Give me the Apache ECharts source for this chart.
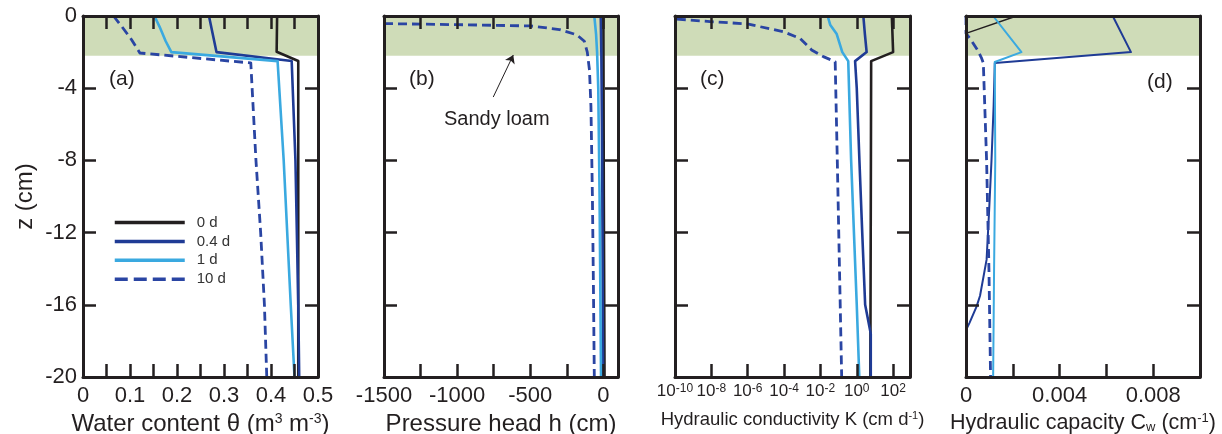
<!DOCTYPE html>
<html>
<head>
<meta charset="utf-8">
<script src="https://cdn.jsdelivr.net/npm/echarts@6/dist/echarts.min.js"></script>
<style>
html,body{margin:0;padding:0;background:#fff;}
#chart{width:1222px;height:434px;}
</style>
</head>
<body>
<div id="chart"></div>
<script>
// ---------- data (value, depth z in cm) ----------
const legendNames = ['0 d', '0.4 d', '1 d', '10 d'];
const layerZ = [0, -2.2];            // sandy loam layer (green band)
const kTickValues = [1e-10, 1e-8, 1e-6, 1e-4, 1e-2, 1, 1e2];

// (a) water content theta
const theta0d  = [[0.413,0],[0.412,-1.98],[0.458,-2.49],[0.458,-20]];
const theta04d = [[0.268,0],[0.284,-2.0],[0.444,-2.49],[0.452,-8],[0.458,-16],[0.46,-20]];
const theta1d  = [[0.152,0],[0.163,-0.6],[0.176,-1.4],[0.188,-2.0],[0.414,-2.5],[0.427,-8],[0.442,-16],[0.45,-20]];
const theta10d = [[0.065,0],[0.083,-0.6],[0.103,-1.3],[0.121,-2.05],[0.357,-2.6],[0.368,-8],[0.378,-12],[0.386,-16],[0.391,-20]];

// (b) pressure head h
const h0d  = [[0,0],[3,-10],[8,-20]];
const h04d = [[-18,0],[-14,-2],[-8,-8],[-2,-20]];
const h1d  = [[-62,0],[-50,-1],[-43,-2],[-35,-4],[-26,-10],[-16,-20]];
const h10d = [[-1500,-0.42],[-1000,-0.48],[-500,-0.55],[-300,-0.75],[-180,-1.05],[-130,-1.4],[-110,-2],[-95,-3],[-85,-5],[-75,-10],[-68,-15],[-62,-20]];

// (c) hydraulic conductivity K (cm/d)
const K0d  = [[85,0],[100,-2],[6.2,-2.5],[5.6,-20]];
const K04d = [[2.3,0],[2.8,-1],[3.5,-2],[0.81,-2.5],[1.0,-4],[1.4,-8],[2.0,-12],[2.9,-16],[5.9,-17.6],[5.9,-20]];
const K1d  = [[0.025,0],[0.035,-0.5],[0.079,-1],[0.16,-2],[0.34,-2.5],[0.49,-8],[1.0,-16],[1.38,-20]];
const K10d = [[1.26e-10,-0.17],[8.5e-9,-0.31],[9.5e-7,-0.44],[9.1e-5,-0.87],[7.6e-4,-1.24],[3.3e-3,-1.88],[1.45e-2,-2.25],[6.5e-2,-2.53],[8.5e-2,-8],[0.148,-20]];

// (d) hydraulic capacity Cw (1/cm)
const C0d  = [[0.00216,0],[0,-0.96],[0,-20]];
const C04d = [[0.00627,0],[0.00705,-2],[0.00123,-2.6],[0.00118,-5],[0.00109,-8],[0.00098,-11],[0.00088,-13.5],[0.0006,-15.5],[0.00045,-16.1],[0.00015,-17],[0,-17.4],[0,-20]];
const C1d  = [[0.00116,0],[0.00237,-2],[0.00123,-2.55],[0.00125,-8],[0.0012,-14],[0.00116,-20]];
const C10d = [[0,0],[0,-0.96],[0.0002,-1.3],[0.0005,-1.9],[0.00067,-2.35],[0.00074,-2.6],[0.00088,-8],[0.00098,-14],[0.00105,-20]];

// annotation arrow (data coords in panel b)
const arrowFrom = [-753, -4.49];
const arrowTo   = [-616, -2.16];

// ---------- styles ----------
const INK = '#231f20';
const colors = {'0 d':'#231f20','0.4 d':'#1f3b95','1 d':'#3aa9e0','10 d':'#2a45a3'};
const GREEN = '#cfdcb8';
const FONT = 'Liberation Sans, Arial, sans-serif';

const panelData = [
  [theta0d, theta04d, theta1d, theta10d],
  [h0d, h04d, h1d, h10d],
  [K0d, K04d, K1d, K10d],
  [C0d, C04d, C1d, C10d]
];

const grids = [
  {left:83,  right:904, top:16, bottom:57, outerBoundsMode:'none', containLabel:false},
  {left:384, right:604, top:16, bottom:57, outerBoundsMode:'none', containLabel:false},
  {left:675, right:312, top:16, bottom:57, outerBoundsMode:'none', containLabel:false},
  {left:966, right:22,  top:16, bottom:57, outerBoundsMode:'none', containLabel:false}
];

const tickStyle = {show:true, inside:true, length:13, lineStyle:{color:INK, width:2.5}};
const lineAx = {show:true, onZero:false, lineStyle:{color:INK, width:3}};

function supRich(base){
  return {
    sup:{fontSize:Math.round(base*0.6), verticalAlign:'top', fontFamily:FONT, color:INK},
    sub:{fontSize:Math.round(base*0.6), verticalAlign:'bottom', fontFamily:FONT, color:INK}
  };
}

const xDefs = [
  {type:'value', min:0, max:0.5, interval:0.05,
   fmt:v=>{const k=Math.round(v*100); return k%10?'':(k===0?'0':(k/100).toString());},
   name:'Water content θ (m{sup|3} m{sup|-3})', nameSize:24, labelSize:22, topTicks:true, gap:31},
  {type:'value', min:-1500, max:100, interval:250,
   fmt:v=>{const k=Math.round(v); return (k%500===0 && k<=0)?String(k):'';},
   name:'Pressure head h (cm)', nameSize:24, labelSize:22, topTicks:true, gap:31},
  {type:'log', min:1e-10, max:850, logBase:10, custom:kTickValues,
   fmt:v=>{const r=Math.round(Math.log10(v)); return '{b|10}{s|'+r+'}';},
   name:'Hydraulic conductivity K (cm d{sup|-1})', nameSize:18.5, labelSize:17, topTicks:true, gap:33},
  {type:'value', min:0, max:0.01, interval:0.002,
   fmt:v=>{const k=Math.round(v*1000); return k%4?'':(k===0?'0':(k/1000).toFixed(3));},
   name:'Hydraulic capacity C{sub|w} (cm{sup|-1})', nameSize:21.5, labelSize:22, topTicks:false, gap:31}
];

const xAxis = [], yAxis = [], series = [];
xDefs.forEach((d,i)=>{
  const base = {type:d.type, min:d.min, max:d.max, gridIndex:i, z:5,
    splitLine:{show:false}, minorTick:{show:false}, axisLine:lineAx};
  if (d.interval != null) base.interval = d.interval;
  if (d.logBase) base.logBase = d.logBase;
  const tk = Object.assign({}, tickStyle);
  if (d.custom) tk.customValues = d.custom;
  const lab = {show:true, margin:8, fontSize:d.labelSize, color:INK, fontFamily:FONT, formatter:d.fmt,
      rich:{b:{fontSize:17, fontFamily:FONT, color:INK, verticalAlign:'bottom'},
            s:{fontSize:12, fontFamily:FONT, color:INK, verticalAlign:'top'}}};
  if (d.custom) { lab.customValues = d.custom; lab.margin = 6; }
  xAxis.push(Object.assign({}, base, {
    position:'bottom',
    axisTick:tk,
    axisLabel:lab,
    name:d.name, nameLocation:'middle', nameGap:d.gap,
    nameTextStyle:{fontSize:d.nameSize, color:INK, fontFamily:FONT, rich:supRich(d.nameSize)}
  }));
  xAxis.push(Object.assign({}, base, {
    position:'top',
    axisTick:Object.assign({}, tk, {show:d.topTicks}),
    axisLabel:{show:false}
  }));
  const ybase = {type:'value', min:-20, max:0, interval:4, gridIndex:i, z:5,
    splitLine:{show:false}, axisLine:lineAx, axisTick:tickStyle};
  yAxis.push(Object.assign({}, ybase, {
    position:'left',
    axisLabel:{show:i===0, margin:6, fontSize:22, color:INK, fontFamily:FONT},
    name: i===0 ? 'z (cm)' : '', nameLocation:'middle', nameGap:46,
    nameTextStyle:{fontSize:24, color:INK, fontFamily:FONT}
  }));
  yAxis.push(Object.assign({}, ybase, {position:'right', axisLabel:{show:false}}));

  // green layer band
  const band = {type:'line', data:[], xAxisIndex:2*i, yAxisIndex:2*i, z:1, silent:true,
    markArea:{silent:true, itemStyle:{color:GREEN}, data:[[{yAxis:layerZ[0]},{yAxis:layerZ[1]}]]}};
  if (i===1){
    band.markLine = {silent:true, symbol:['none','arrow'], symbolSize:8, label:{show:false},
      lineStyle:{color:INK, width:1, type:'solid'},
      data:[[{coord:arrowFrom},{coord:arrowTo}]]};
  }
  series.push(band);

  panelData[i].forEach((arr,j)=>{
    const nm = legendNames[j];
    let w = (i===3) ? 2 : 2.6;
    if (i===3 && j===0) w = 1.4;
    series.push({
      type:'line', name:nm, data:arr, xAxisIndex:2*i, yAxisIndex:2*i,
      showSymbol:false, symbol:'none', z:3, clip:true, animation:false,
      lineStyle:{color:colors[nm], width:(j===3?2.8:w), type:(j===3?[9,5]:'solid'), cap:'butt', join:'round'},
      itemStyle:{color:colors[nm]}
    });
  });
});

const option = {
  animation:false,
  backgroundColor:'#fff',
  grid:grids,
  xAxis, yAxis, series,
  legend:{
    data:[
      {name:'0 d', lineStyle:{width:3.5}},
      {name:'0.4 d', lineStyle:{width:3.5}},
      {name:'1 d', lineStyle:{width:3.5}},
      {name:'10 d', lineStyle:{width:3.5, type:[13,6]}}
    ],
    orient:'vertical', left:113, top:215, itemWidth:70, itemHeight:14, itemGap:3.9,
    selectedMode:false, padding:0,
    itemStyle:{opacity:0, borderWidth:0},
    textStyle:{fontSize:15, color:'#333', fontFamily:FONT, padding:[0,0,0,7]}
  },
  graphic:[
    {type:'text', left:109, top:69, style:{text:'(a)', fontSize:21, fill:INK, fontFamily:FONT}},
    {type:'text', left:409, top:69, style:{text:'(b)', fontSize:21, fill:INK, fontFamily:FONT}},
    {type:'text', left:700, top:69, style:{text:'(c)', fontSize:21, fill:INK, fontFamily:FONT}},
    {type:'text', left:1147, top:72, style:{text:'(d)', fontSize:21, fill:INK, fontFamily:FONT}},
    {type:'text', left:444, top:109, style:{text:'Sandy loam', fontSize:20, fill:INK, fontFamily:FONT}}
  ]
};

const chart = echarts.init(document.getElementById('chart'), null, {renderer:'canvas'});
chart.setOption(option);
</script>
</body>
</html>
